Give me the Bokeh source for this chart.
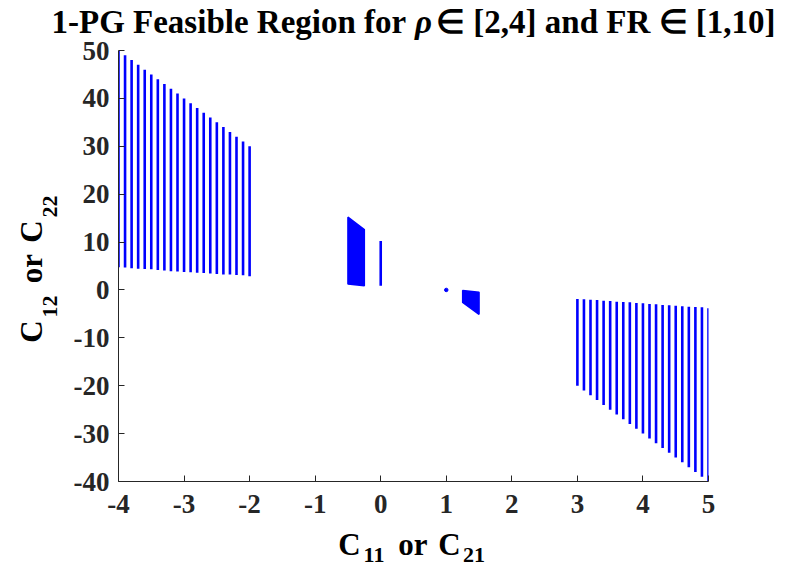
import math
from bokeh.plotting import figure
from bokeh.layouts import column
from bokeh.models import Range1d, FixedTicker, Label, GridBox
from bokeh.embed import file_html
from bokeh.resources import INLINE

# ---------------- data ----------------
left_x = [-4.0, -3.9, -3.8, -3.7, -3.6, -3.5, -3.4, -3.3, -3.2, -3.1, -3.0,
          -2.9, -2.8, -2.7, -2.6, -2.5, -2.4, -2.3, -2.2, -2.1, -2.0]
left_top = [50, 49, 48, 47, 46, 45, 44, 43, 42, 41, 40,
            39, 38, 37, 36, 35, 34, 33, 32, 31, 30]
left_bottom = [4.75, 4.7, 4.55, 4.45, 4.35, 4.3, 4.15, 4.05, 3.9, 3.85, 3.75,
               3.7, 3.6, 3.55, 3.45, 3.35, 3.25, 3.2, 3.1, 3.05, 2.85]

right_x = [3.0, 3.1, 3.2, 3.3, 3.4, 3.5, 3.6, 3.7, 3.8, 3.9, 4.0,
           4.1, 4.2, 4.3, 4.4, 4.5, 4.6, 4.7, 4.8, 4.9, 5.0]
right_top = [-1.9, -1.96, -2.03, -2.1, -2.24, -2.31, -2.45, -2.52, -2.59, -2.73, -2.79,
             -2.93, -3.0, -3.14, -3.21, -3.28, -3.42, -3.49, -3.56, -3.63, -3.84]
right_bottom = [-20, -21, -22, -23, -24, -25, -26, -27, -28, -29, -30,
                -31, -32, -33, -34, -35, -36, -37, -38, -39, -40]

block_a_x = [-0.5, -0.25, -0.25, -0.5]
block_a_y = [15.2, 12.6, 0.9, 1.25]

bar_x = [0.0]
bar_bottom = [0.9]
bar_top = [10.2]

dot_x = [1.0]
dot_y = [0.0]

block_b_x = [1.25, 1.5, 1.5, 1.25]
block_b_y = [-0.1, -0.5, -5.1, -2.6]

x_ticks = [-4, -3, -2, -1, 0, 1, 2, 3, 4, 5]
y_ticks = [-40, -30, -20, -10, 0, 10, 20, 30, 40, 50]
x_tick_labels = ["-4", "-3", "-2", "-1", "0", "1", "2", "3", "4", "5"]
y_tick_labels = ["-40", "-30", "-20", "-10", "0", "10", "20", "30", "40", "50"]

title_left = "1-PG Feasible Region for"
title_rho = "\u03c1"
title_right = "\u2208 [2,4] and FR \u2208 [1,10]"

# ---------------- page layout (pixels) ----------------
W, H = 788, 570
FW, FH = 590, 431            # plot frame: page x 118..708, y 50..481
BL, BT = 118, 50
BR, BB = W - BL - FW, H - BT - FH

FONT = "Liberation Serif"
AX = "#262626"
BLUE = "#0000ff"

# ---------------- main chart ----------------
XMIN, XMAX, YMIN, YMAX = -4, 5, -40, 50
p = figure(frame_width=FW, frame_height=FH,
           x_range=Range1d(XMIN, XMAX), y_range=Range1d(YMIN, YMAX),
           output_backend="svg", toolbar_location=None,
           min_border_left=BL, min_border_right=BR,
           min_border_top=BT, min_border_bottom=BB,
           background_fill_color="white", border_fill_color="white")
p.outline_line_color = None
p.xgrid.visible = False
p.ygrid.visible = False

for ax in (p.xaxis[0], p.yaxis[0]):
    ax.axis_line_color = AX
    ax.axis_line_width = 1
    ax.major_tick_line_color = AX
    ax.major_tick_in = 6
    ax.major_tick_out = 0
    ax.minor_tick_line_color = None
    ax.major_label_text_font = FONT
    ax.major_label_text_font_style = "bold"
    ax.major_label_text_font_size = "27px"
    ax.major_label_text_color = AX
p.xaxis.major_label_standoff = 13
p.yaxis.major_label_standoff = 9
p.xaxis.ticker = FixedTicker(ticks=x_ticks)
p.yaxis.ticker = FixedTicker(ticks=y_ticks)
p.xaxis.major_label_overrides = {t: s for t, s in zip(x_ticks, x_tick_labels)}
p.yaxis.major_label_overrides = {t: s for t, s in zip(y_ticks, y_tick_labels)}

p.segment(x0=left_x, y0=left_bottom, x1=left_x, y1=left_top,
          line_color=BLUE, line_width=2.6)
p.segment(x0=right_x, y0=right_bottom, x1=right_x, y1=right_top,
          line_color=BLUE, line_width=2.6)
p.segment(x0=bar_x, y0=bar_bottom, x1=bar_x, y1=bar_top,
          line_color=BLUE, line_width=2.6)
p.patch(block_a_x, block_a_y, fill_color=BLUE, line_color=BLUE, line_width=1.5)
p.patch(block_b_x, block_b_y, fill_color=BLUE, line_color=BLUE, line_width=1.5)
p.scatter(dot_x, dot_y, size=3.5, color=BLUE)

# ---------------- transparent text layer over the chart (units == page px) --
ov = figure(width=W, height=H, x_range=Range1d(0, W), y_range=Range1d(H, 0),
            output_backend="svg", toolbar_location=None,
            x_axis_location=None, y_axis_location=None, min_border=0,
            background_fill_color=None, border_fill_color=None)
ov.outline_line_color = None
ov.grid.visible = False


def lab(text, px, py, size, angle=0.0, align="center", style="bold"):
    # py is the vertical middle of the text box
    ov.add_layout(Label(x=px, y=py, text=text, angle=angle,
                        text_align=align, text_baseline="middle",
                        text_font=FONT, text_font_style=style,
                        text_font_size=size, text_color="black"))


# title
lab(title_left, 51, 21.5, "33px", align="left")
lab(title_rho, 423, 21.5, "33px", style="bold italic")
lab(title_right, 775, 21.5, "33px", align="right")

# y label: C12 or C22 (rotated)
R = math.pi / 2
lab("C", 31, 331, "31px", angle=R)
lab("12", 49, 306, "22px", angle=R)
lab("or", 31, 268, "31px", angle=R)
lab("C", 31, 231, "31px", angle=R)
lab("22", 49, 206, "22px", angle=R)

# x label: C11 or C21
lab("C", 349, 544, "31px")
lab("11", 373.5, 554.5, "22px")
lab("or", 412.5, 544, "31px")
lab("C", 449, 544, "31px")
lab("21", 473.5, 554.5, "22px")

page = GridBox(children=[(column(p), 0, 0), (column(ov), 0, 0)])
open("out.html", "w").write(file_html(page, INLINE))
